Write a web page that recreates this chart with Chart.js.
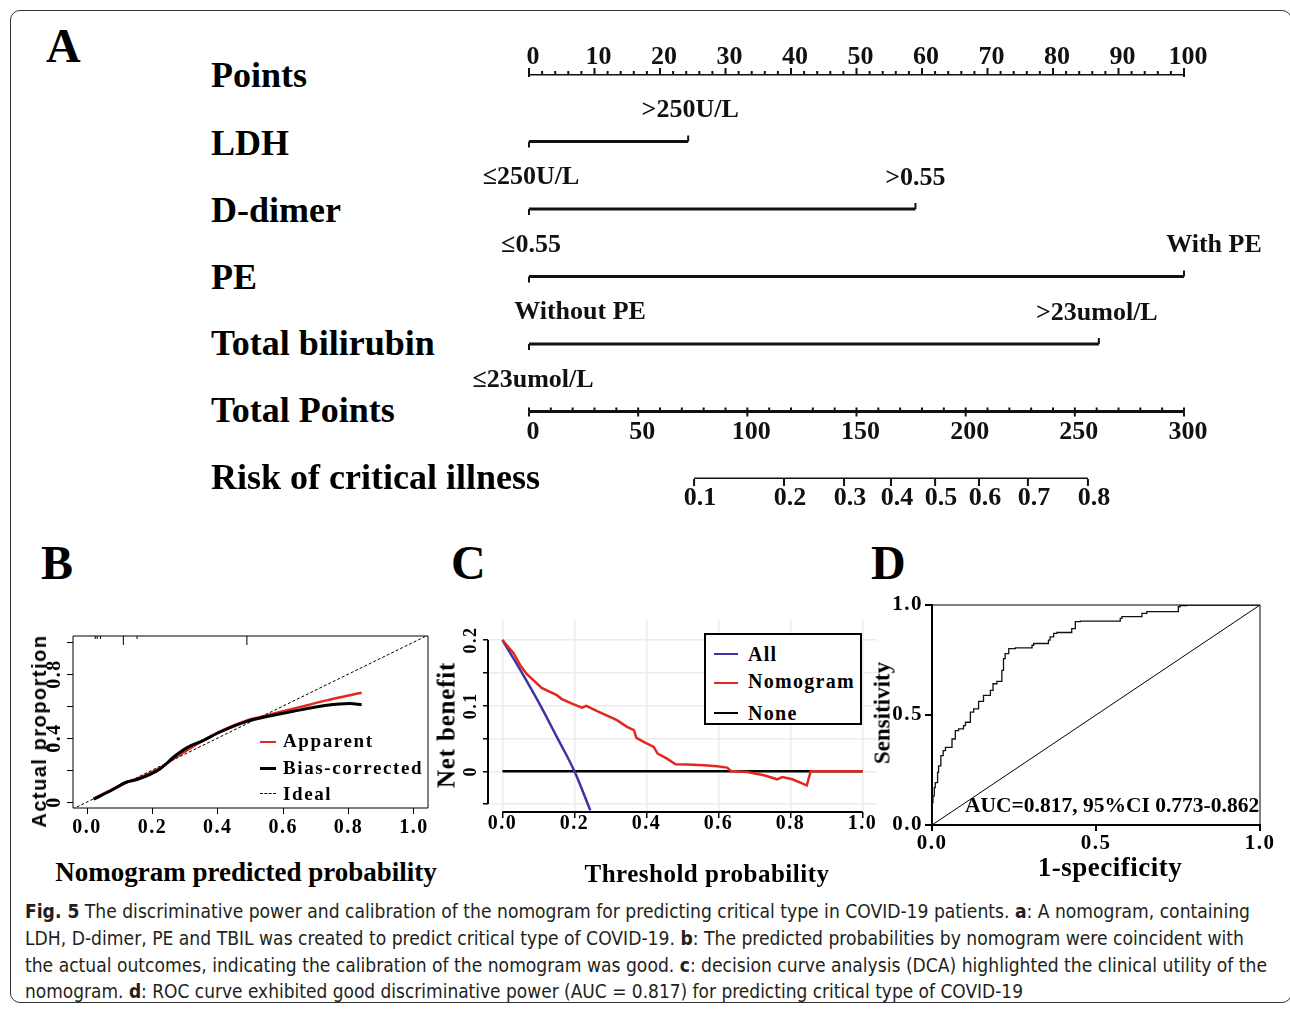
<!DOCTYPE html>
<html>
<head>
<meta charset="utf-8">
<script src="https://cdn.jsdelivr.net/npm/chart.js@4.4.1/dist/chart.umd.min.js"></script>
<style>
  body { margin: 0; background: #fff; }
  #page { position: relative; width: 1290px; height: 1010px; overflow: hidden; background: #fff; }
  .frame { position: absolute; left: 10px; top: 10px; width: 1282px; height: 993px; border: 1.4px solid #333; border-radius: 10px; box-sizing: border-box; }
  canvas { position: absolute; }
  .t { position: absolute; white-space: nowrap; line-height: 1; font-family: "Liberation Serif", serif; font-weight: bold; color: #000; }
  .c { transform: translate(-50%, -50%); }
  .l { transform: translate(0, -50%); }
  .v { transform: translate(-50%, -50%) rotate(-90deg); }
  .letter { font-size: 48px; }
  .row { font-size: 36px; }
  .key { position: absolute; height: 0; }
  .cap { position: absolute; left: 25px; white-space: nowrap; line-height: 1; font-family: "Liberation Sans Narrow", "DejaVu Sans Condensed", sans-serif; font-size: 19.5px; color: #231f20; transform-origin: left center; }
  .legendC { position: absolute; left: 704px; top: 633px; width: 158px; height: 92px; border: 2px solid #000; box-sizing: border-box; background: #fff; }
</style>
</head>
<body>
<div id="page">
  <div class="frame"></div>

  <canvas id="nomo" width="840" height="490" style="left:440px;top:30px"></canvas>
  <canvas id="calib" width="440" height="230" style="left:0px;top:620px"></canvas>
  <canvas id="dca" width="450" height="250" style="left:430px;top:600px"></canvas>
  <canvas id="roc" width="420" height="300" style="left:860px;top:590px"></canvas>

  <!-- panel letters -->
  <div class="t letter l" style="left:46px;top:46px">A</div>
  <div class="t letter l" style="left:41px;top:563px">B</div>
  <div class="t letter l" style="left:451px;top:563px">C</div>
  <div class="t letter l" style="left:871px;top:563px">D</div>

  <!-- nomogram row names -->
  <div class="t row l" style="left:211px;top:75px">Points</div>
  <div class="t row l" style="left:211px;top:143px">LDH</div>
  <div class="t row l" style="left:211px;top:210px">D-dimer</div>
  <div class="t row l" style="left:211px;top:277px">PE</div>
  <div class="t row l" style="left:211px;top:343px">Total bilirubin</div>
  <div class="t row l" style="left:211px;top:410px">Total Points</div>
  <div class="t row l" style="left:211px;top:477px">Risk of critical illness</div>

  <!-- panel B text -->
  <div class="t v" style="left:39px;top:731px;font-family:'Liberation Sans',sans-serif;font-size:20px;letter-spacing:1.5px">Actual proportion</div>
  <div class="t c" style="left:246px;top:872px;font-size:27px">Nomogram predicted probability</div>
  <div class="key" style="left:260px;top:741px;width:16px;border-top:2.5px solid #e3261f"></div>
  <div class="key" style="left:260px;top:767px;width:16px;border-top:3px solid #000"></div>
  <div class="key" style="left:260px;top:793px;width:16px;border-top:1.5px dashed #000"></div>
  <div class="t l" style="left:283px;top:740px;font-size:19px;letter-spacing:1.6px">Apparent</div>
  <div class="t l" style="left:283px;top:767px;font-size:19px;letter-spacing:1.6px">Bias-corrected</div>
  <div class="t l" style="left:283px;top:793px;font-size:19px;letter-spacing:1.6px">Ideal</div>

  <!-- panel C text -->
  <div class="t v" style="left:446px;top:725px;font-size:25px;letter-spacing:0.8px">Net benefit</div>
  <div class="t c" style="left:707px;top:873px;font-size:25px;letter-spacing:0.5px">Threshold probability</div>
  <div class="legendC">
    <div class="key" style="left:8px;top:18px;width:24px;border-top:2.5px solid #3b35a8"></div>
    <div class="key" style="left:8px;top:47px;width:24px;border-top:2.5px solid #e3261f"></div>
    <div class="key" style="left:8px;top:77px;width:24px;border-top:2.5px solid #000"></div>
    <div class="t l" style="left:42px;top:19px;font-size:20px;letter-spacing:1.3px">All</div>
    <div class="t l" style="left:42px;top:46px;font-size:20px;letter-spacing:1.3px">Nomogram</div>
    <div class="t l" style="left:42px;top:78px;font-size:20px;letter-spacing:1.3px">None</div>
  </div>

  <!-- panel D text -->
  <div class="t v" style="left:882px;top:713px;font-size:23px">Sensitivity</div>
  <div class="t c" style="left:1110px;top:867px;font-size:27px;letter-spacing:0.5px">1-specificity</div>
  <div class="t l" style="left:965px;top:806px;font-size:21.5px">AUC=0.817, 95%CI 0.773-0.862</div>

  <!-- caption -->
  <div class="cap" style="top:912px"><b>Fig. 5</b> The discriminative power and calibration of the nomogram for predicting critical type in COVID-19 patients. <b>a</b>: A nomogram, containing</div>
  <div class="cap" style="top:939px">LDH, D-dimer, PE and TBIL was created to predict critical type of COVID-19. <b>b</b>: The predicted probabilities by nomogram were coincident with</div>
  <div class="cap" style="top:966px">the actual outcomes, indicating the calibration of the nomogram was good. <b>c</b>: decision curve analysis (DCA) highlighted the clinical utility of the</div>
  <div class="cap" style="top:992px">nomogram. <b>d</b>: ROC curve exhibited good discriminative power (AUC = 0.817) for predicting critical type of COVID-19</div>
</div>

<script>
// --- DATA: nomogram (A) ---
const pointTicks = [0, 10, 20, 30, 40, 50, 60, 70, 80, 90, 100];
const totalTicks = [0, 50, 100, 150, 200, 250, 300];
const riskLabels = ['0.1', '0.2', '0.3', '0.4', '0.5', '0.6', '0.7', '0.8'];
const riskAtTotal = [75.6, 116.8, 144.3, 165.8, 186.0, 206.1, 228.5, 256.0];
const ldhLevels = ['≤250U/L', '>250U/L'];
const ldhPoints = [0, 24.3];
const ddimerLevels = ['≤0.55', '>0.55'];
const ddimerPoints = [0, 59];
const peLevels = ['Without PE', 'With PE'];
const pePoints = [0, 100];
const tbilLevels = ['≤23umol/L', '>23umol/L'];
const tbilPoints = [0, 87];

// --- DATA: calibration (B) ---
const calTicks = [0, 0.2, 0.4, 0.6, 0.8, 1.0];
const calYLabelValues = [0, 0.4, 0.8];
const calYLabels = ['0', '0.4', '0.8'];
const calX = [0.02, 0.071, 0.122, 0.153, 0.224, 0.265, 0.305, 0.356, 0.407, 0.489, 0.53, 0.631, 0.733, 0.804, 0.84];
const apparentY = [0.021, 0.073, 0.125, 0.146, 0.213, 0.271, 0.323, 0.385, 0.442, 0.51, 0.531, 0.583, 0.635, 0.667, 0.683];
const biasY = [0.017, 0.069, 0.125, 0.14, 0.208, 0.281, 0.338, 0.385, 0.4375, 0.504, 0.525, 0.567, 0.604, 0.615, 0.608];
const idealX = [-0.1, 1.1];
const rugX = [0.025, 0.031, 0.041, 0.111, 0.153, 0.489];
const rugCount = [1, 1, 1, 3, 1, 3];

// --- DATA: decision curve (C) ---
const dcaTicks = [0, 0.2, 0.4, 0.6, 0.8, 1.0];
const dcaYTicks = [-0.05, 0, 0.05, 0.1, 0.15, 0.2];
const dcaYLabelValues = [0.2, 0.1, 0];
const dcaYLabels = ['0.2', '0.1', '0'];
const nomoX = [0, 0.031, 0.049, 0.068, 0.086, 0.109, 0.151, 0.165, 0.198, 0.221, 0.233, 0.263, 0.309, 0.318, 0.346, 0.365, 0.372, 0.392, 0.42, 0.431, 0.457, 0.481, 0.513, 0.559, 0.596, 0.624, 0.634, 0.68, 0.726, 0.763, 0.777, 0.805, 0.845, 0.856, 1.0];
const nomoNB = [0.2, 0.18, 0.162, 0.148, 0.139, 0.127, 0.116, 0.11, 0.102, 0.097, 0.0997, 0.0916, 0.0804, 0.0779, 0.0677, 0.0626, 0.0509, 0.0448, 0.0371, 0.027, 0.0193, 0.0107, 0.0102, 0.0092, 0.0076, 0.0056, 0.0005, -0.001, -0.006, -0.0122, -0.0087, -0.0122, -0.0214, 0, 0];
const allX = [0, 0.058, 0.105, 0.151, 0.2, 0.244];
const allNB = [0.2, 0.1466, 0.1008, 0.0524, 0, -0.0595];
const noneX = [0, 1];
const noneNB = [0, 0];

// --- DATA: ROC (D) ---
const rocTicks = [0, 0.5, 1.0];
const rocFPR = [0, 0.003, 0.007, 0.010, 0.017, 0.020, 0.027, 0.034, 0.041, 0.061, 0.071, 0.081, 0.096, 0.102, 0.117, 0.127, 0.142, 0.157, 0.178, 0.186, 0.198, 0.213, 0.218, 0.223, 0.234, 0.254, 0.305, 0.310, 0.355, 0.360, 0.371, 0.381, 0.426, 0.437, 0.452, 0.574, 0.579, 0.640, 0.655, 0.751, 0.756, 0.777, 0.787, 1.0];
const rocTPR = [0, 0.102, 0.132, 0.170, 0.193, 0.239, 0.269, 0.315, 0.338, 0.353, 0.391, 0.429, 0.437, 0.452, 0.467, 0.513, 0.528, 0.562, 0.589, 0.612, 0.642, 0.653, 0.703, 0.756, 0.779, 0.802, 0.805, 0.817, 0.825, 0.840, 0.855, 0.871, 0.875, 0.893, 0.924, 0.927, 0.939, 0.947, 0.962, 0.970, 0.992, 0.997, 1.0, 1.0];
const diagX = [0, 1];

const SERIF = '"Liberation Serif", serif';
Chart.defaults.font.family = SERIF;
Chart.defaults.color = '#000';
Chart.defaults.animation = false;

const pts = (xs, ys) => xs.map((x, i) => ({ x: x, y: ys[i] }));
const fixTicks = list => scale => { scale.ticks = list.map(v => ({ value: v })); };
const noPlugins = { legend: { display: false }, tooltip: { enabled: false } };
const tickFont = size => ({ family: SERIF, weight: 'bold', size: size });

function spacing(px) {
    return { id: 'spacing', beforeDraw(chart) { chart.ctx.letterSpacing = px; } };
}

function rotatedYLabels(values, labels, offset, font) {
    return {
        id: 'rotatedYLabels',
        afterDraw(chart) {
            const ctx = chart.ctx, y = chart.scales.y;
            ctx.save();
            ctx.font = font;
            ctx.fillStyle = '#000';
            ctx.textAlign = 'center';
            ctx.textBaseline = 'middle';
            values.forEach((v, i) => {
                ctx.save();
                ctx.translate(chart.chartArea.left - offset, y.getPixelForValue(v));
                ctx.rotate(-Math.PI / 2);
                ctx.fillText(labels[i], 0, 0);
                ctx.restore();
            });
            ctx.restore();
        }
    };
}

function frame(sides, width) {
    return {
        id: 'frame',
        afterDatasetsDraw(chart) {
            const ctx = chart.ctx, a = chart.chartArea;
            ctx.save();
            ctx.strokeStyle = '#000';
            ctx.lineWidth = width;
            ctx.beginPath();
            if (sides.includes('top')) { ctx.moveTo(a.left, a.top); ctx.lineTo(a.right, a.top); }
            if (sides.includes('right')) { ctx.moveTo(a.right, a.top); ctx.lineTo(a.right, a.bottom); }
            if (sides.includes('bottom')) { ctx.moveTo(a.left, a.bottom); ctx.lineTo(a.right, a.bottom); }
            if (sides.includes('left')) { ctx.moveTo(a.left, a.top); ctx.lineTo(a.left, a.bottom); }
            ctx.stroke();
            ctx.restore();
        }
    };
}

// --- 1. NOMOGRAM ---
const predictorLevels = [ldhLevels, ddimerLevels, peLevels, tbilLevels];
const predictorPoints = [ldhPoints, ddimerPoints, pePoints, tbilPoints];
const levelLabelShift = [[2, 2], [2, 0], [51, 30], [4, -2]];

const nomogramMarks = {
    id: 'nomogramMarks',
    afterDatasetsDraw(chart) {
        const ctx = chart.ctx;
        const x = chart.scales.x, x2 = chart.scales.x2, y = chart.scales.y;
        ctx.save();
        ctx.strokeStyle = '#111';
        ctx.fillStyle = '#111';
        ctx.lineWidth = 2;
        ctx.font = 'bold 26px ' + SERIF;
        ctx.textAlign = 'center';
        ctx.textBaseline = 'middle';
        const tick = (px, py, len) => {
            ctx.beginPath();
            ctx.moveTo(px, py);
            ctx.lineTo(px, py + len);
            ctx.stroke();
        };

        // points scale
        const p0 = y.getPixelForValue(0);
        for (let v = 0; v <= 100; v += 2) tick(x.getPixelForValue(v), p0, v % 10 === 0 ? -6 : -3);
        tick(x.getPixelForValue(0), p0, 3);
        tick(x.getPixelForValue(100), p0, 3);
        pointTicks.forEach(v => ctx.fillText(String(v), x.getPixelForValue(v) + 4, p0 - 17));

        // predictors
        predictorLevels.forEach((levels, i) => {
            const py = y.getPixelForValue(i + 1);
            levels.forEach((lab, j) => {
                const px = x.getPixelForValue(predictorPoints[i][j]);
                const upper = j === levels.length - 1;
                tick(px, py, upper ? -6 : 6);
                ctx.fillText(lab, px + levelLabelShift[i][j], upper ? py - 31 : py + 36);
            });
        });

        // total points
        const p5 = y.getPixelForValue(5);
        for (let v = 0; v <= 300; v += 10) tick(x2.getPixelForValue(v), p5, -4);
        totalTicks.forEach(v => {
            tick(x2.getPixelForValue(v), p5, 5);
            ctx.fillText(String(v), x2.getPixelForValue(v) + 4, p5 + 21);
        });

        // risk
        const p6 = y.getPixelForValue(6);
        riskAtTotal.forEach((t, i) => {
            tick(x2.getPixelForValue(t), p6, 7);
            ctx.fillText(riskLabels[i], x2.getPixelForValue(t) + 6, p6 + 19);
        });
        ctx.restore();
    }
};

const rowLine = { borderColor: '#111', borderWidth: 3, pointRadius: 0, showLine: true, fill: false };
new Chart(document.getElementById('nomo'), {
    type: 'scatter',
    data: {
        datasets: [
            Object.assign({ data: pts([0, 100], [0, 0]) }, rowLine),
            Object.assign({ data: pts(ldhPoints, [1, 1]) }, rowLine),
            Object.assign({ data: pts(ddimerPoints, [2, 2]) }, rowLine),
            Object.assign({ data: pts(pePoints, [3, 3]) }, rowLine),
            Object.assign({ data: pts(tbilPoints, [4, 4]) }, rowLine),
            Object.assign({ data: pts([totalTicks[0], totalTicks[totalTicks.length - 1]], [5, 5]), xAxisID: 'x2' }, rowLine),
            Object.assign({ data: pts([riskAtTotal[0], riskAtTotal[riskAtTotal.length - 1]], [6, 6]), xAxisID: 'x2' }, rowLine)
        ]
    },
    options: {
        responsive: false,
        layout: { padding: { left: 89, right: 96, top: 44, bottom: 41 } },
        plugins: noPlugins,
        scales: {
            x: { type: 'linear', min: 0, max: 100, display: false },
            x2: { type: 'linear', axis: 'x', min: 0, max: 300, display: false },
            y: { type: 'linear', min: 0, max: 6, reverse: true, display: false }
        }
    },
    plugins: [nomogramMarks]
});

// --- 2. CALIBRATION CURVE ---
const rugMarks = {
    id: 'rugMarks',
    afterDatasetsDraw(chart) {
        const ctx = chart.ctx, x = chart.scales.x, top = chart.chartArea.top;
        ctx.save();
        ctx.strokeStyle = '#000';
        ctx.lineWidth = 1;
        rugX.forEach((v, i) => {
            ctx.beginPath();
            ctx.moveTo(x.getPixelForValue(v), top);
            ctx.lineTo(x.getPixelForValue(v), top + rugCount[i] * 3);
            ctx.stroke();
        });
        ctx.restore();
    }
};

new Chart(document.getElementById('calib'), {
    type: 'scatter',
    data: {
        datasets: [
            { label: 'Ideal', data: pts(idealX, idealX), showLine: true, borderColor: '#000', borderWidth: 1, borderDash: [3, 2], pointRadius: 0 },
            { label: 'Bias-corrected', data: pts(calX, biasY), showLine: true, borderColor: '#000', borderWidth: 3, pointRadius: 0, cubicInterpolationMode: 'monotone' },
            { label: 'Apparent', data: pts(calX, apparentY), showLine: true, borderColor: '#e3261f', borderWidth: 2.5, pointRadius: 0, cubicInterpolationMode: 'monotone' }
        ]
    },
    options: {
        responsive: false,
        layout: { padding: { left: 0, right: 12, top: 16, bottom: 0 } },
        plugins: noPlugins,
        scales: {
            x: {
                type: 'linear', min: -0.043, max: 1.043,
                afterBuildTicks: fixTicks(calTicks),
                afterFit: s => { s.height = 42; },
                grid: { drawOnChartArea: false, color: '#000', tickLength: 6 },
                border: { display: false },
                ticks: { font: tickFont(20), padding: 2, maxRotation: 0, callback: v => v.toFixed(1) }
            },
            y: {
                type: 'linear', min: -0.0375, max: 1.0375,
                afterBuildTicks: fixTicks(calTicks),
                afterFit: s => { s.width = 73; },
                grid: { drawOnChartArea: false, color: '#000', tickLength: 6 },
                border: { display: false },
                ticks: { display: false }
            }
        }
    },
    plugins: [spacing('1.5px'), frame(['top', 'right', 'bottom', 'left'], 1), rugMarks,
              rotatedYLabels(calYLabelValues, calYLabels, 18, 'bold 20px ' + SERIF)]
});

// --- 3. DECISION CURVE ---
const dcaAxes = {
    id: 'dcaAxes',
    afterDatasetsDraw(chart) {
        const ctx = chart.ctx, x = chart.scales.x, y = chart.scales.y, a = chart.chartArea;
        ctx.save();
        ctx.strokeStyle = '#000';
        ctx.lineWidth = 2;
        ctx.beginPath();
        ctx.moveTo(a.left, y.getPixelForValue(dcaYTicks[dcaYTicks.length - 1]));
        ctx.lineTo(a.left, y.getPixelForValue(dcaYTicks[0]));
        ctx.moveTo(x.getPixelForValue(dcaTicks[0]), a.bottom);
        ctx.lineTo(x.getPixelForValue(dcaTicks[dcaTicks.length - 1]), a.bottom);
        ctx.stroke();
        ctx.restore();
    }
};

new Chart(document.getElementById('dca'), {
    type: 'scatter',
    data: {
        datasets: [
            { label: 'Nomogram', data: pts(nomoX, nomoNB), showLine: true, borderColor: '#e3261f', borderWidth: 2.5, pointRadius: 0 },
            { label: 'All', data: pts(allX, allNB), showLine: true, borderColor: '#3b35a8', borderWidth: 2.5, pointRadius: 0, cubicInterpolationMode: 'monotone' },
            { label: 'None', data: pts(noneX, noneNB), showLine: true, borderColor: '#000', borderWidth: 2.5, pointRadius: 0 }
        ]
    },
    options: {
        responsive: false,
        layout: { padding: { left: 0, right: 3, top: 19, bottom: 0 } },
        plugins: noPlugins,
        scales: {
            x: {
                type: 'linear', min: -0.04, max: 1.04,
                afterBuildTicks: fixTicks(dcaTicks),
                afterFit: s => { s.height = 38; },
                grid: { color: '#ebebeb', lineWidth: 1.5, tickColor: '#000', tickLength: 6 },
                border: { display: false },
                ticks: { font: tickFont(20), padding: -6, maxRotation: 0, callback: v => v.toFixed(1) }
            },
            y: {
                type: 'linear', min: -0.062, max: 0.232,
                afterBuildTicks: fixTicks(dcaYTicks),
                afterFit: s => { s.width = 58; },
                grid: { color: '#ebebeb', lineWidth: 1.5, tickColor: '#000', tickLength: 5 },
                border: { display: false },
                ticks: { display: false }
            }
        }
    },
    plugins: [spacing('1.5px'), dcaAxes, rotatedYLabels(dcaYLabelValues, dcaYLabels, 17, 'bold 18px ' + SERIF)]
});

// --- 4. ROC CURVE ---
new Chart(document.getElementById('roc'), {
    type: 'scatter',
    data: {
        datasets: [
            { label: 'ROC', data: pts(rocFPR, rocTPR), showLine: true, stepped: 'after', borderColor: '#111', borderWidth: 1.3, pointRadius: 0 },
            { label: 'Reference', data: pts(diagX, diagX), showLine: true, borderColor: '#000', borderWidth: 1, pointRadius: 0 }
        ]
    },
    options: {
        responsive: false,
        layout: { padding: { left: 0, right: 20, top: 15, bottom: 0 } },
        plugins: noPlugins,
        scales: {
            x: {
                type: 'linear', min: 0, max: 1,
                afterBuildTicks: fixTicks(rocTicks),
                afterFit: s => { s.height = 65; },
                grid: { drawOnChartArea: false, color: '#000', lineWidth: 2, tickLength: 6 },
                border: { color: '#000', width: 2 },
                ticks: { font: tickFont(21), padding: 0, maxRotation: 0, callback: v => v.toFixed(1) }
            },
            y: {
                type: 'linear', min: 0, max: 1,
                afterBuildTicks: fixTicks(rocTicks),
                afterFit: s => { s.width = 72; },
                grid: { drawOnChartArea: false, color: '#000', lineWidth: 2, tickLength: 7 },
                border: { color: '#000', width: 2 },
                ticks: { font: tickFont(21), padding: 2, callback: v => v.toFixed(1) }
            }
        }
    },
    plugins: [spacing('1.5px'), frame(['top', 'right'], 1)]
});

// --- 5. CAPTION LINE FITTING ---
const captionWidths = [1225, 1219, 1242, 998];
document.querySelectorAll('.cap').forEach((el, i) => {
    const w = el.getBoundingClientRect().width;
    el.style.transform = 'translateY(-50%) scaleX(' + (captionWidths[i] / w) + ')';
});
</script>
</body>
</html>
